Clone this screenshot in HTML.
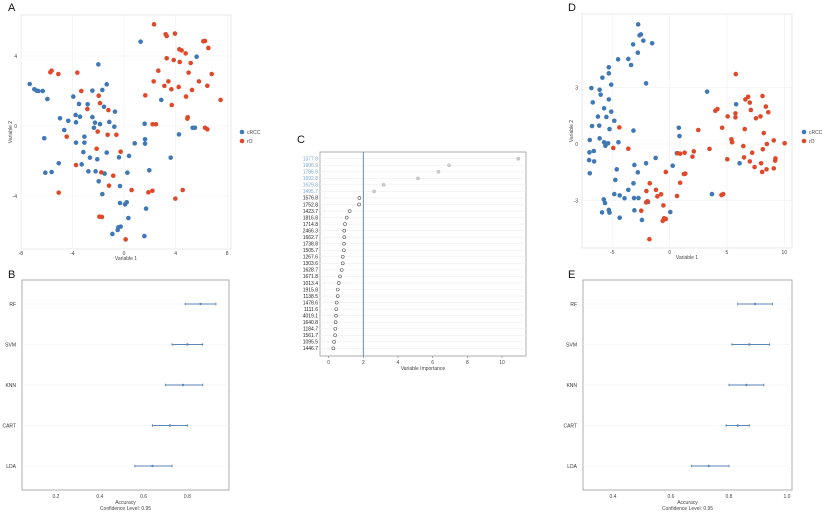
<!DOCTYPE html>
<html><head><meta charset="utf-8"><style>
body{margin:0;background:#fff;}
svg{display:block;font-family:"Liberation Sans",sans-serif;}
</style></head><body>
<svg id="fig" width="825" height="515" viewBox="0 0 825 515"></svg>
<script>
const aBlueX=[1.29,5.63,-1.99,-7.31,-6.95,-6.77,-6.64,-6.30,-5.94,-1.34,-1.68,-2.45,-3.93,-3.49,-2.82,-1.55,-0.70,-4.96,-4.32,-3.75,-3.41,-3.72,-2.45,-2.25,-2.33,-1.86,-1.14,-0.75,2.89,1.60,-4.63,-6.18,-3.72,-3.07,-3.07,1.63,1.63,0.83,-3.15,-2.64,-2.07,-1.34,-0.39,0.39,5.32,5.50,4.26,3.62,-5.06,-6.10,-5.61,-3.28,-2.76,-2.20,-1.50,0.26,1.96,-1.96,-0.31,-1.68,-0.31,0.08,0.21,1.71,0.34,-0.44,-0.26,-0.49,-0.90,1.58];
const aBlueY=[4.82,3.96,3.52,2.40,2.10,2.02,2.00,2.00,1.54,2.38,2.06,2.02,1.68,1.26,1.24,1.10,0.82,0.44,0.30,0.63,0.53,0.21,0.51,0.19,-0.10,0.11,0.23,-0.04,1.49,0.13,-0.23,-0.70,-0.95,-0.61,-0.95,-0.76,-1.01,-0.99,-1.49,-1.81,-1.90,-1.52,-1.79,-1.71,-0.10,-0.10,-0.48,-1.81,-2.13,-2.67,-2.63,-2.19,-2.59,-2.59,-2.72,-2.67,-2.53,-3.16,-3.43,-3.89,-4.40,-4.48,-4.36,-4.72,-5.26,-5.79,-5.75,-5.94,-6.17,-6.29];
const aRedX=[2.33,3.23,3.95,3.31,6.15,6.28,4.29,4.47,6.54,4.78,3.31,3.85,4.32,5.17,-5.61,-5.71,-5.09,-3.62,2.66,5.01,6.80,2.30,3.44,3.13,5.81,4.24,-3.31,3.67,5.27,6.46,-1.96,1.65,4.81,7.49,-1.86,-2.84,-1.21,3.70,4.94,4.91,2.22,2.48,6.28,6.46,-4.44,-2.04,-1.27,-0.59,-2.12,-0.26,-3.72,-1.76,-0.83,-1.16,0.59,1.89,2.20,4.55,3.98,-5.06,-1.91,-1.71,0.13];
const aRedY=[5.81,5.24,5.28,5.14,4.84,4.86,4.38,4.32,4.46,4.15,3.87,3.77,3.66,3.60,3.16,3.07,2.97,3.05,3.16,3.05,2.97,2.55,2.55,2.29,2.55,2.23,2.00,2.10,2.06,2.30,1.73,1.75,1.68,1.49,1.31,0.97,0.91,1.20,0.50,0.42,0.10,0.10,-0.10,-0.19,-0.61,-0.32,-0.50,-0.50,-1.30,-1.47,-2.23,-2.65,-2.84,-3.41,-3.66,-3.79,-3.70,-3.66,-4.15,-3.81,-5.18,-5.20,-6.48];
const dBlueX=[-2.74,-2.50,-2.62,-2.29,-1.52,-3.18,-2.77,-4.49,-3.60,-3.36,-5.30,-5.30,-5.86,-5.09,-2.05,-6.82,-6.10,-6.01,-5.30,-6.70,-6.25,-5.71,-5.09,-5.51,-6.76,-6.13,-4.82,-5.24,-3.15,0.80,0.86,-6.96,-6.10,-5.71,-5.60,-5.36,-4.46,-6.99,-6.61,-7.02,-6.58,-6.96,-3.07,-4.61,-2.77,-2.05,-1.22,0.63,0.27,-4.73,-3.15,-3.60,-4.82,-4.35,-3.93,-3.10,-2.71,-5.74,-5.63,-5.30,-5.24,-5.89,-3.07,-1.88,-4.35,-2.41,0.06,3.27,3.69,5.80,6.10];
const dBlueY=[6.33,5.80,5.75,5.47,5.33,5.27,4.83,4.48,4.50,4.18,4.06,3.74,3.51,3.14,3.21,2.96,2.87,2.61,2.36,2.20,1.45,1.89,1.71,1.43,0.95,0.97,1.23,0.79,0.71,0.86,0.42,0.21,0.30,0.09,-0.09,0.04,0.09,-0.44,-0.37,-0.85,-0.92,-1.55,-1.11,-1.34,-1.50,-1.02,-0.74,-0.49,-1.15,-1.90,-2.08,-2.43,-2.65,-2.72,-2.87,-2.86,-2.86,-2.93,-3.12,-3.49,-3.63,-3.62,-3.51,-3.07,-3.90,-4.02,-3.60,2.77,-2.65,2.10,-1.02];
const dRedX=[-4.38,-4.91,-3.60,5.77,3.99,4.17,2.50,4.58,5.06,5.74,5.74,6.61,6.85,6.99,7.08,7.53,7.92,8.10,8.39,8.60,6.55,8.21,5.39,5.45,6.43,7.20,6.49,5.03,6.99,7.41,7.98,8.07,8.45,8.13,8.48,9.08,10.03,9.23,9.20,9.08,3.48,2.11,1.99,1.31,0.71,0.92,1.37,1.25,-0.33,0.92,-1.73,-2.02,-1.19,-0.74,-1.07,-2.05,-0.54,-1.93,0.65,-2.47,-0.48,-0.33,-0.60,-1.76,4.67,4.52];
const dRedY=[0.88,-0.21,-0.25,3.70,1.76,1.85,0.74,0.86,1.46,1.62,1.41,2.36,2.50,2.19,1.80,1.36,1.46,2.54,1.98,1.68,0.79,0.58,0.25,0.09,-0.11,-0.46,-0.71,-0.81,-0.92,-1.22,-1.02,-1.48,-1.34,-0.28,0.00,0.19,0.04,-0.76,-0.88,-1.29,-0.26,-0.39,-0.67,-0.46,-0.49,-0.51,-1.57,-1.59,-1.48,-2.05,-2.08,-2.49,-2.43,-2.66,-2.77,-3.09,-3.25,-3.03,-2.75,-3.53,-3.93,-3.97,-4.07,-5.04,-2.65,-2.70];
const cLabels=["1377.8","1906.9","1786.8","1692.8","1629.8","1495.7","1576.8","1752.8","1423.7","1816.8","1714.8","2466.3","1662.7","1738.8","1505.7","1267.6","1303.6","1628.7","1671.8","1013.4","1915.8","1138.5","1478.6","1111.6","4019.1","1640.8","1184.7","1561.7","1095.5","1446.7"];
const cValues=[10.94,6.94,6.33,5.15,3.17,2.62,1.77,1.75,1.21,1.04,0.94,0.90,0.90,0.88,0.87,0.81,0.81,0.75,0.65,0.58,0.52,0.52,0.46,0.44,0.42,0.40,0.38,0.37,0.31,0.27];
const cThreshold=2;
const models=["RF","SVM","KNN","CART","LDA"];
const bMean=[0.86,0.80,0.78,0.72,0.64];
const bLow=[0.79,0.73,0.70,0.64,0.56];
const bHigh=[0.93,0.87,0.87,0.80,0.73];
const eMean=[0.89,0.87,0.86,0.83,0.73];
const eLow=[0.83,0.81,0.80,0.79,0.67];
const eHigh=[0.95,0.94,0.92,0.87,0.80];
const aTicksX=[-8,-4,0,4,8], aTicksY=[-4,0,4];
const dTicksX=[-5,0,5,10], dTicksY=[-3,0,3];
const cTicks=[0,2,4,6,8,10];
const bTicks=[0.2,0.4,0.6,0.8], eTicks=[0.4,0.6,0.8,1.0];

const svg=document.getElementById('fig');
const NS='http://www.w3.org/2000/svg';
function mk(tag,attrs,parent,txt){const e=document.createElementNS(NS,tag);for(const k in attrs)e.setAttribute(k,attrs[k]);if(txt!==undefined)e.textContent=txt;(parent||svg).appendChild(e);return e;}
const BLUE='#3f78b5', RED='#e0482a';

function letter(t,x,y){const e=mk('text',{x:x,y:y,'font-size':11,fill:'#111'},svg,t);

}

function scatter(id,x0,x1,y0,y1,xs,ys,ticksX,ticksY,bx,by,rx,ry,legX){
  const g=mk('g',{});
  
  
  const X=v=>xs.o+v*xs.k, Y=v=>ys.o-v*ys.k;
  const bg=mk('rect',{x:x0,y:y0,width:x1-x0,height:y1-y0,fill:'#fff',stroke:'#e4e4e4','stroke-width':0.8},g);
  
  
  ticksX.forEach(t=>{mk('line',{x1:X(t),x2:X(t),y1:y0,y2:y1,stroke:'#f0f0f0','stroke-width':0.6},g);
    const l=mk('text',{x:X(t),y:y1+6,'font-size':5,'text-anchor':'middle',fill:'#444'},g,t);
    
    });
  ticksY.forEach(t=>{mk('line',{x1:x0,x2:x1,y1:Y(t),y2:Y(t),stroke:'#f0f0f0','stroke-width':0.6},g);
    const l=mk('text',{x:x0-4,y:Y(t)+2,'font-size':5,'text-anchor':'end',fill:'#444'},g,t);
    
    });
  const xt=mk('text',{x:(x0+x1)/2,y:y1+11,'font-size':5,'text-anchor':'middle',fill:'#444'},g,'Variable 1');
  
  
  const yt=mk('text',{x:0,y:0,'font-size':5,'text-anchor':'middle',fill:'#444',transform:`translate(${x0-9},${(y0+y1)/2}) rotate(-90)`},g,'Variable 2');
  
  
  for(let i=0;i<bx.length;i++){const c=mk('circle',{cx:X(bx[i]),cy:Y(by[i]),r:2.3,fill:BLUE},g);
    
    }
  for(let i=0;i<rx.length;i++){const c=mk('circle',{cx:X(rx[i]),cy:Y(ry[i]),r:2.3,fill:RED},g);
    
    }
  [['cRCC',BLUE,132],['rO',RED,141]].forEach(([n,c,y])=>{
    const le=mk('g',{},g);
    
    
    mk('circle',{cx:legX,cy:y,r:2.3,fill:c},le);
    mk('text',{x:legX+5,y:y+2,'font-size':5,fill:'#444'},le,n);});
}
letter('A',8,11);
scatter('a',21,231,15,249,{o:124,k:12.9},{o:126,k:17.5},aTicksX,aTicksY,aBlueX,aBlueY,aRedX,aRedY,242);
letter('D',568,11);
scatter('d',582,792,14,248,{o:669.6,k:11.47},{o:144,k:18.9},dTicksX,dTicksY,dBlueX,dBlueY,dRedX,dRedY,804);

// Panel C
letter('C',297,143);
(function(){
  const g=mk('g',{});
  
  
  const x0=320,x1=526,y0=152,y1=356;
  const X=v=>328.7+v*17.33, Y=i=>158.7+i*6.54;
  mk('rect',{x:x0,y:y0,width:x1-x0,height:y1-y0,fill:'#fff',stroke:'#9a9a9a','stroke-width':0.8},g);
  cLabels.forEach((lab,i)=>{
    mk('line',{x1:x0,x2:x1,y1:Y(i),y2:Y(i),stroke:'#ededed','stroke-width':0.6},g);
    const top=cValues[i]>cThreshold;
    const t=mk('text',{x:x0-2,y:Y(i)+1.8,'font-size':5,'text-anchor':'end',fill:top?'#7aa6cf':'#222'},g,lab);
    
    
    const c=mk('circle',{cx:X(cValues[i]),cy:Y(i),r:1.5,fill:top?'#cfcfcf':'#fff',stroke:top?'#bbb':'#555','stroke-width':0.6},g);
    
    
  });
  const vl=mk('line',{x1:X(cThreshold),x2:X(cThreshold),y1:y0,y2:y1,stroke:'#5b8fc0','stroke-width':1},g);
  
  
  cTicks.forEach(t=>{mk('line',{x1:X(t),x2:X(t),y1:y1,y2:y1+2,stroke:'#777','stroke-width':0.6},g);
    const l=mk('text',{x:X(t),y:y1+8,'font-size':5,'text-anchor':'middle',fill:'#444'},g,t);
    
    });
  const xt=mk('text',{x:(x0+x1)/2,y:y1+14,'font-size':5,'text-anchor':'middle',fill:'#444'},g,'Variable Importance');
  
  
})();

function dotplot(id,x0,x1,xo,xk,base,ticks,mean,lo,hi){
  const g=mk('g',{});
  
  
  const y0=280,y1=490;
  const X=v=>xo+(v-base)*xk, Y=i=>304+i*40.5;
  mk('rect',{x:x0,y:y0,width:x1-x0,height:y1-y0,fill:'#fff',stroke:'#9a9a9a','stroke-width':0.8},g);
  models.forEach((m,i)=>{
    mk('line',{x1:x0,x2:x1,y1:Y(i),y2:Y(i),stroke:'#f0f0f0','stroke-width':0.6},g);
    const t=mk('text',{x:x0-6,y:Y(i)+2,'font-size':5,'text-anchor':'end',fill:'#333'},g,m);
    
    
    const eb=mk('g',{stroke:'#5b86b5','stroke-width':0.9},g);
    
    
    mk('line',{x1:X(lo[i]),x2:X(hi[i]),y1:Y(i),y2:Y(i)},eb);
    mk('line',{x1:X(lo[i]),x2:X(lo[i]),y1:Y(i)-1.3,y2:Y(i)+1.3},eb);
    mk('line',{x1:X(hi[i]),x2:X(hi[i]),y1:Y(i)-1.3,y2:Y(i)+1.3},eb);
    mk('circle',{cx:X(mean[i]),cy:Y(i),r:1.2,fill:'#5b86b5',stroke:'none'},eb);
  });
  ticks.forEach(t=>{const l=mk('text',{x:X(t),y:y1+8,'font-size':5,'text-anchor':'middle',fill:'#444'},g,t.toFixed(1));
    
    });
  const xt=mk('text',{x:(x0+x1)/2,y:y1+14,'font-size':5,'text-anchor':'middle',fill:'#444'},g,'Accuracy');
  
  
  const ct=mk('text',{x:(x0+x1)/2,y:y1+20,'font-size':5,'text-anchor':'middle',fill:'#444'},g,'Confidence Level: 0.95');
  
  
}
letter('B',8,278);
dotplot('b',22,229,56,219,0.2,bTicks,bMean,bLow,bHigh);
letter('E',568,278);
dotplot('e',583,792,613,290,0.4,eTicks,eMean,eLow,eHigh);
</script>
</body></html>
